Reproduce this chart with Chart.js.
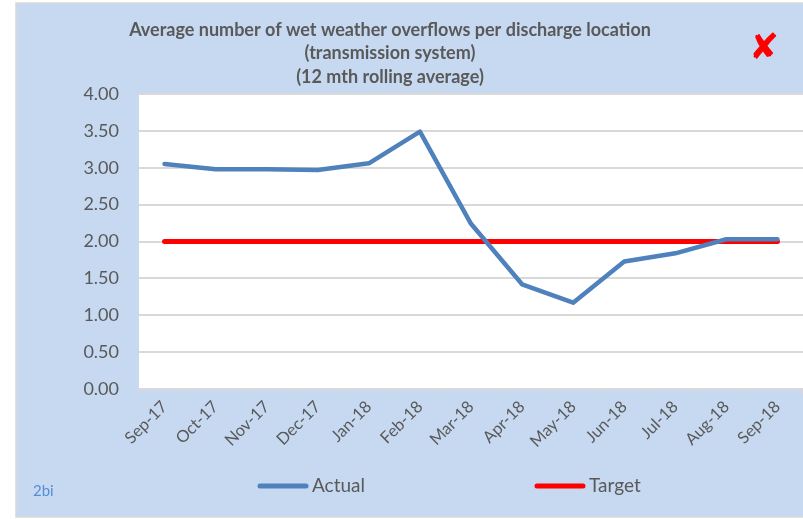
<!DOCTYPE html>
<html>
<head>
<meta charset="utf-8">
<script src="https://cdn.jsdelivr.net/npm/chart.js@4.4.1/dist/chart.umd.min.js"></script>
<style>
html, body { margin: 0; padding: 0; background: #fff; }
#chart { display: block; }
</style>
</head>
<body>
<canvas id="chart" width="803" height="519"></canvas>
<script>
const months = ["Sep-17", "Oct-17", "Nov-17", "Dec-17", "Jan-18", "Feb-18", "Mar-18",
	"Apr-18", "May-18", "Jun-18", "Jul-18", "Aug-18", "Sep-18"];
const actual = [3.05, 2.98, 2.98, 2.97, 3.06, 3.49, 2.24, 1.42, 1.17, 1.73, 1.84, 2.03, 2.03];
const target = [2, 2, 2, 2, 2, 2, 2, 2, 2, 2, 2, 2, 2];
const titleLines = [
	"Average number of wet weather overflows per discharge location",
	"(transmission system)",
	"(12 mth rolling average)"
];
const seriesNames = ["Actual", "Target"];
const seriesColors = ["#4f81bd", "#ff0000"];

const textGrey = "#595959";
const gridGrey = "#d9d9d9";

// background panel, white plot area, title, marker and legend
const framePlugin = {
	id: "frame",
	beforeDraw(chart) {
		const ctx = chart.ctx;
		const a = chart.chartArea;
		ctx.save();
		ctx.fillStyle = "#ffffff";
		ctx.fillRect(0, 0, chart.width, chart.height);
		ctx.fillStyle = "#c6d9f1";
		ctx.fillRect(16, 3, chart.width - 16, 514);
		ctx.strokeStyle = gridGrey;
		ctx.lineWidth = 1.5;
		ctx.strokeRect(16, 3, chart.width - 14, 514);
		ctx.fillStyle = "#ffffff";
		ctx.fillRect(a.left, a.top, a.right - a.left, a.bottom - a.top);
		ctx.restore();
	},
	afterDraw(chart) {
		const ctx = chart.ctx;
		ctx.save();
		// title
		ctx.fillStyle = textGrey;
		ctx.font = "bold 18px Lato";
		ctx.textAlign = "center";
		ctx.textBaseline = "middle";
		const ys = [30, 53, 77];
		titleLines.forEach((t, i) => ctx.fillText(t, 390, ys[i]));

		// red cross
		ctx.fillStyle = "#ff0000";
		ctx.font = "bold 36px 'DejaVu Sans'";
		ctx.fillText("\u2718", 764, 50);

		// page ref
		ctx.fillStyle = "#558ed5";
		ctx.font = "15px Lato";
		ctx.textAlign = "left";
		ctx.fillText("2bi", 33, 491);

		// legend
		const items = [
			{ x: 260, label: seriesNames[0], color: seriesColors[0] },
			{ x: 537, label: seriesNames[1], color: seriesColors[1] }
		];
		items.forEach((it) => {
			ctx.strokeStyle = it.color;
			ctx.lineWidth = 5;
			ctx.lineCap = "round";
			ctx.beginPath();
			ctx.moveTo(it.x, 486);
			ctx.lineTo(it.x + 46, 486);
			ctx.stroke();
			ctx.fillStyle = textGrey;
			ctx.font = "19px Lato";
			ctx.fillText(it.label, it.x + 52, 486);
		});
		ctx.restore();
	}
};

new Chart(document.getElementById("chart"), {
	type: "line",
	data: {
		labels: months,
		datasets: [
			{
				label: seriesNames[0],
				data: actual,
				borderColor: seriesColors[0],
				borderWidth: 4.5,
				pointRadius: 0,
				tension: 0,
				borderCapStyle: "round",
				borderJoinStyle: "round"
			},
			{
				label: seriesNames[1],
				data: target,
				borderColor: seriesColors[1],
				borderWidth: 5,
				pointRadius: 0,
				tension: 0,
				borderCapStyle: "round"
			}
		]
	},
	options: {
		responsive: false,
		animation: false,
		layout: { padding: { top: 94, right: 0, bottom: 0, left: 0 } },
		plugins: {
			legend: { display: false },
			title: { display: false },
			tooltip: { enabled: false }
		},
		scales: {
			x: {
				offset: true,
				afterFit: (s) => { s.height = 130; },
				grid: {
					offset: true,
					drawOnChartArea: false,
					drawTicks: true,
					tickLength: 5,
					color: gridGrey,
					lineWidth: 1.5
				},
				border: { display: true, color: gridGrey, width: 2 },
				ticks: {
					autoSkip: false,
					minRotation: 45,
					maxRotation: 45,
					padding: 3,
					color: textGrey,
					font: { family: "Lato", size: 16.5 }
				}
			},
			y: {
				min: 0,
				max: 4,
				afterFit: (s) => { s.width = 139; },
				grid: { color: gridGrey, lineWidth: 2, drawTicks: false },
				border: { display: false },
				ticks: {
					stepSize: 0.5,
					padding: 20,
					color: textGrey,
					font: { family: "Lato", size: 18 },
					callback: (v) => Number(v).toFixed(2)
				}
			}
		}
	},
	plugins: [framePlugin]
});
</script>
</body>
</html>
